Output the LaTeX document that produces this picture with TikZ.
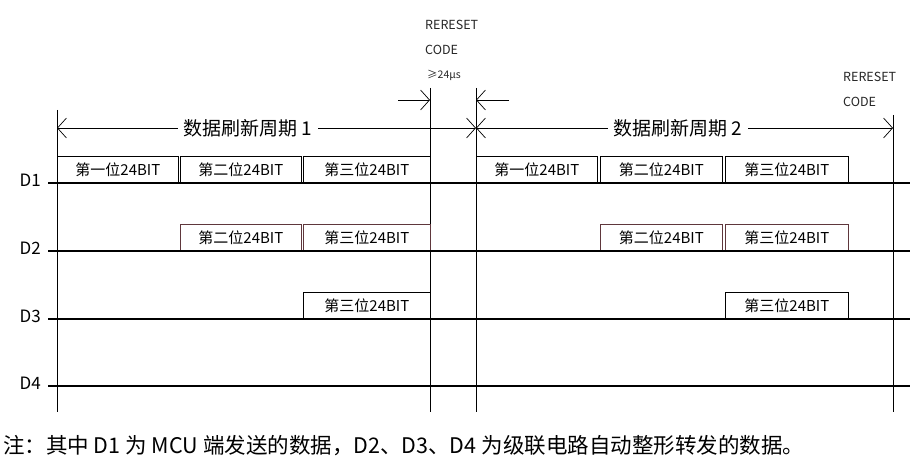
\documentclass[tikz,border=0pt]{standalone}
\usepackage{fontspec}
\setmainfont{Noto Sans CJK SC}
\usetikzlibrary{arrows.meta}
\begin{document}
\begin{tikzpicture}[x=1pt,y=-1pt,
  sig/.style={line width=2.8pt},
  vline/.style={line width=0.9pt},
  bitbox/.style={draw, line width=0.8pt, minimum height=26pt, inner sep=0pt, anchor=south west, font=\fontsize{15}{15}\selectfont},
  pinkbox/.style={bitbox, draw={rgb,255:red,95;green,55;blue,60}},
  dimline/.style={line width=0.9pt},
  tip/.style={-{Straight Barb[length=9pt,width=20pt,line width=0.7pt]}},
  both/.style={{Straight Barb[length=9pt,width=20pt,line width=0.7pt]}-{Straight Barb[length=9pt,width=20pt,line width=0.7pt]}},
  dlabel/.style={font=\fontsize{17}{17}\selectfont, anchor=east, inner xsep=1pt},
  period/.style={fill=white, inner xsep=6pt, font=\fontsize{19}{19}\selectfont},
  code/.style={anchor=west, inner sep=0pt, font=\fontsize{12.5}{12.5}\selectfont, text=black!85},
  caption/.style={anchor=west, inner sep=0pt, font=\fontsize{21.5}{21.5}\selectfont}]
\useasboundingbox (0,0) rectangle (917,465);
% vertical boundaries
\coordinate (v1t) at (57,110);  \coordinate (v1b) at (57,412);
\coordinate (v2t) at (430,88);  \coordinate (v2b) at (430,412);
\coordinate (v3t) at (476,88);  \coordinate (v3b) at (476,412);
\coordinate (v4t) at (893,115); \coordinate (v4b) at (893,412);
\draw[vline] (v1t) -- (v1b);
\draw[vline] (v2t) -- (v2b);
\draw[vline] (v3t) -- (v3b);
\draw[vline] (v4t) -- (v4b);
% boxes D1
\node[bitbox, minimum width=121pt] (a11) at (57,183) {第一位24BIT};
\node[bitbox, minimum width=121pt] (a12) at (180,183) {第二位24BIT};
\node[bitbox, minimum width=127pt] (a13) at (303,183) {第三位24BIT};
\node[bitbox, minimum width=121pt] (b11) at (476,183) {第一位24BIT};
\node[bitbox, minimum width=122pt] (b12) at (600,183) {第二位24BIT};
\node[bitbox, minimum width=123pt] (b13) at (725,183) {第三位24BIT};
% boxes D2
\node[pinkbox, minimum width=121pt] (a22) at (180,251) {第二位24BIT};
\node[pinkbox, minimum width=127pt] (a23) at (303,251) {第三位24BIT};
\node[pinkbox, minimum width=122pt] (b22) at (600,251) {第二位24BIT};
\node[pinkbox, minimum width=123pt] (b23) at (725,251) {第三位24BIT};
% boxes D3
\node[bitbox, minimum width=127pt] (a33) at (303,319) {第三位24BIT};
\node[bitbox, minimum width=123pt] (b33) at (725,319) {第三位24BIT};
% signal lines
\foreach \n/\y in {1/183,2/251,3/319,4/386}{
  \coordinate (s\n l) at (48,\y);
  \coordinate (s\n r) at (910,\y);
  \node[dlabel] (d\n) at (42,\y-3) {D\n};
  \draw[sig] (s\n l) -- (s\n r);
}
% refresh periods
\coordinate (p1l) at (57,128); \coordinate (p1r) at (476,128);
\coordinate (p2l) at (476,128); \coordinate (p2r) at (893,128);
\draw[dimline, both] (p1l) -- (p1r);
\draw[dimline, both] (p2l) -- (p2r);
\node[period] (per1) at (248,128) {数据刷新周期 1};
\node[period] (per2) at (678,128) {数据刷新周期 2};
% reset code marks
\coordinate (r1s) at (398,100); \coordinate (r1e) at (430,100);
\coordinate (r2s) at (509,100); \coordinate (r2e) at (476,100);
\draw[dimline, tip] (r1s) -- (r1e);
\draw[dimline, tip] (r2s) -- (r2e);
\node[code] (rc1) at (425,25) {RERESET};
\node[code] (rc2) at (425,50) {CODE};
\node[code, font=\fontsize{10.5}{10.5}\selectfont] (rc3) at (427,75) {≥24μs};
\node[code] (rc4) at (843,77) {RERESET};
\node[code] (rc5) at (843,102) {CODE};
% caption
\node[caption] (cap) at (3,446) {注：其中 D1 为 MCU 端发送的数据，D2、D3、D4 为级联电路自动整形转发的数据。};
\end{tikzpicture}
\end{document}
